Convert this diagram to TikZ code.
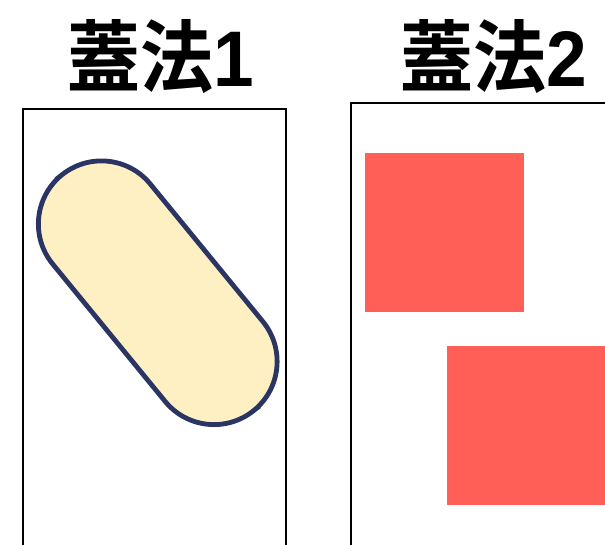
\documentclass[tikz,border=0pt]{standalone}
\usepackage{fontspec}
\setmainfont{Liberation Sans}
\newfontfamily\cjkb{Noto Sans CJK JP Bold}
\definecolor{pillfill}{HTML}{FFF0C4}
\definecolor{pilledge}{HTML}{2A3563}
\definecolor{sqred}{HTML}{FF5F57}
\tikzset{
  panel/.style={draw=black, line width=2pt},
  titletext/.style={inner sep=0pt, anchor=center},
  redsq/.style={fill=sqred, draw=none}
}
\newcommand{\ttl}[1]{\scalebox{1}[1.08]{\fontsize{73}{73}\selectfont\cjkb 蓋法\bfseries\rmfamily #1}}
\begin{document}
\begin{tikzpicture}[x=1pt,y=-1pt]
\useasboundingbox (0,0) rectangle (605,544);
\clip (0,0) rectangle (605,544);
\fill[white] (0,0) rectangle (605,544);
% titles
\node[titletext] (t1) at (160.5,57) {\ttl{1}};
\node[titletext] (t2) at (493.5,57) {\ttl{2}};
% panels
\draw[panel] (23,109) rectangle (286,570);
\draw[panel] (351,103) rectangle (640,570);
% pill
\begin{scope}[shift={(157.75,292.75)}, rotate=-50.7]
  \draw[line width=4.8pt, draw=pilledge, fill=pillfill, rounded corners=63.1pt]
    (-151.95,-63.1) rectangle (151.95,63.1);
\end{scope}
% red squares
\fill[redsq] (365,153) rectangle (524,312);
\fill[redsq] (447,346) rectangle (605,505);
\end{tikzpicture}
\end{document}
